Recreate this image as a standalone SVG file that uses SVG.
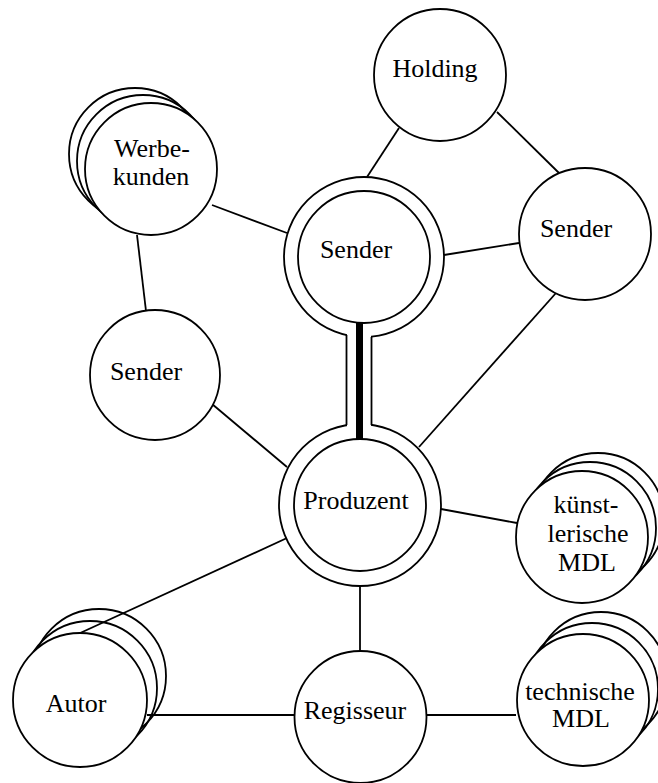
<svg xmlns="http://www.w3.org/2000/svg" width="658" height="783" viewBox="0 0 658 783">
<style>
.n{fill:#fff;stroke:#000;stroke-width:1.8}
.b{fill:none;stroke:#000;stroke-width:1.8}
.c{stroke:#000;stroke-width:1.8;fill:none}
text{font-family:"Liberation Serif","Times New Roman",serif;font-size:26px;fill:#000;text-anchor:middle}
</style>
<rect width="658" height="783" fill="#fff"/>
<g id="connectors">
<line class="c" x1="399" y1="128" x2="367" y2="177"/>
<line class="c" x1="497" y1="112" x2="559" y2="173"/>
<line class="c" x1="444" y1="255" x2="519" y2="243"/>
<line class="c" x1="212" y1="205" x2="287" y2="233"/>
<line class="c" x1="137" y1="235" x2="146" y2="311"/>
<line class="c" x1="212" y1="404" x2="287" y2="467"/>
<line class="c" x1="556" y1="293" x2="419" y2="447"/>
<line class="c" x1="441" y1="509" x2="517" y2="523"/>
<line class="c" x1="287" y1="538" x2="78" y2="634"/>
<line class="c" x1="360" y1="586" x2="360" y2="652"/>
<line class="c" x1="147" y1="715" x2="294" y2="715"/>
<line class="c" x1="427" y1="715" x2="516" y2="715"/>
</g>
<g id="holding">
<circle class="n" cx="440" cy="75" r="66"/>
<text x="435" y="77">Holding</text>
</g>
<g id="sender-right">
<circle class="n" cx="585" cy="234" r="66"/>
<text x="576" y="237">Sender</text>
</g>
<g id="werbekunden">
<circle class="b" cx="135" cy="154" r="66"/>
<circle class="b" cx="143" cy="161" r="66"/>
<circle class="n" cx="151" cy="169" r="66"/>
<text x="152" y="157">Werbe-</text>
<text x="151" y="185">kunden</text>
</g>
<g id="sender-left">
<circle class="n" cx="155" cy="375" r="65"/>
<text x="146" y="380">Sender</text>
</g>
<g id="kuenstlerische-mdl">
<circle class="b" cx="598" cy="519" r="66"/>
<circle class="b" cx="590" cy="528" r="66"/>
<circle class="n" cx="582" cy="537" r="66"/>
<text x="586" y="513">künst-</text>
<text x="588" y="542">lerische</text>
<text x="587" y="571">MDL</text>
</g>
<g id="technische-mdl">
<circle class="b" cx="601" cy="678" r="66"/>
<circle class="b" cx="592" cy="689" r="66"/>
<circle class="n" cx="583" cy="700" r="66"/>
<text x="580" y="700">technische</text>
<text x="581" y="727">MDL</text>
</g>
<g id="autor">
<circle class="b" cx="99" cy="676" r="67"/>
<circle class="b" cx="90" cy="688" r="67"/>
<circle class="n" cx="80" cy="700" r="67"/>
<text x="76" y="712">Autor</text>
</g>
<g id="regisseur">
<circle class="n" cx="360.5" cy="717" r="66"/>
<text x="355" y="719">Regisseur</text>
</g>
<g id="sender-produzent">
<circle class="n" cx="364" cy="257" r="80"/>
<circle class="n" cx="360" cy="505" r="81"/>
<rect x="347" y="328" width="24" height="104" fill="#fff"/>
<line class="c" x1="346.5" y1="335" x2="346.5" y2="425"/>
<line class="c" x1="371.5" y1="337" x2="371.5" y2="425"/>
<circle class="n" cx="364" cy="257" r="66"/>
<circle class="n" cx="360" cy="505" r="66"/>
<line x1="359.5" y1="323" x2="359.5" y2="439" stroke="#000" stroke-width="7"/>
<text x="356" y="258">Sender</text>
<text x="356" y="509">Produzent</text>
</g>
</svg>
